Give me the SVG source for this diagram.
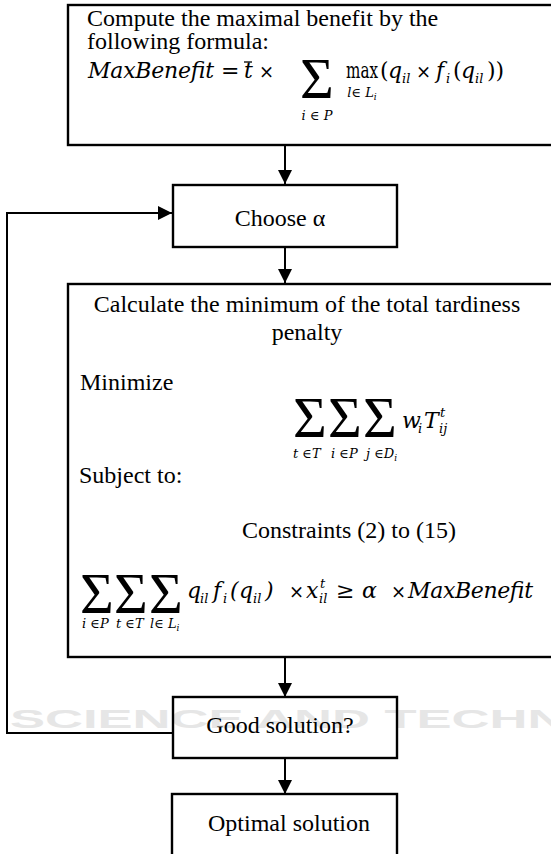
<svg xmlns="http://www.w3.org/2000/svg" width="551" height="854" viewBox="0 0 551 854">
<defs>
<style>
.box{fill:none;stroke:#000;stroke-width:2.4}
.ln{fill:none;stroke:#000;stroke-width:2}
.t{font-family:"Liberation Serif","Times New Roman",serif;font-size:24px;fill:#000}
.m{font-family:"DejaVu Serif",serif;font-style:italic;font-size:22px;fill:#000}
.u{font-family:"DejaVu Serif",serif;font-size:22px;fill:#000}
.x{font-family:"DejaVu Serif",serif;font-style:normal;font-size:18px}
.s{font-family:"DejaVu Serif",serif;font-style:italic;font-size:13px;fill:#000}
.ss{font-size:9px}
.sg{font-family:"Liberation Serif",serif;font-size:58px;fill:#000}
.wm{font-family:"Liberation Sans",sans-serif;font-weight:bold;font-size:25px;fill:#e6e6e6}
</style>
<marker id="ah" markerWidth="14" markerHeight="14" refX="14" refY="7" orient="auto" markerUnits="userSpaceOnUse">
<path d="M0,0 L14,7 L0,14 Z" fill="#000"/>
</marker>
</defs>
<rect x="0" y="0" width="551" height="854" fill="#fff"/>
<g id="watermark">
<text class="wm" x="10" y="728" textLength="745" lengthAdjust="spacingAndGlyphs">SCIENCE AND TECHNOLOGY</text>
</g>
<g id="connectors">
<line class="ln" x1="285" y1="146" x2="285" y2="184" marker-end="url(#ah)"/>
<line class="ln" x1="285" y1="248" x2="285" y2="283" marker-end="url(#ah)"/>
<line class="ln" x1="285" y1="658" x2="285" y2="697" marker-end="url(#ah)"/>
<line class="ln" x1="285" y1="759" x2="285" y2="794" marker-end="url(#ah)"/>
<polyline class="ln" points="172,733 7,733 7,213 172,213" marker-end="url(#ah)"/>
</g>
<g id="node-maxbenefit">
<rect class="box" x="68" y="5" width="500" height="140"/>
<text class="t" x="87" y="26">Compute the maximal benefit by the</text>
<text class="t" x="87" y="49">following formula:</text>
<text class="m" x="88" y="78"><tspan textLength="126" lengthAdjust="spacing">MaxBenefit</tspan><tspan class="u" x="221">=</tspan><tspan x="244">t</tspan><tspan class="x" x="259">×</tspan></text>
<line x1="244" y1="62" x2="252" y2="62" stroke="#000" stroke-width="1.3"/>
<text class="sg" x="300" y="98">Σ</text>
<text class="s" x="317" y="120" text-anchor="middle">i ∈ P</text>
<text class="u" x="346" y="78"><tspan textLength="32" lengthAdjust="spacingAndGlyphs">max</tspan><tspan x="380">(</tspan><tspan class="m" x="388">q</tspan><tspan class="s" x="402" dy="5">il</tspan><tspan class="x" x="416" dy="-5">×</tspan><tspan class="m" x="436">f</tspan><tspan class="s" x="446" dy="5">i</tspan><tspan x="453" dy="-5">(</tspan><tspan class="m" x="461">q</tspan><tspan class="s" x="475" dy="5">il</tspan><tspan x="487" dy="-5">))</tspan></text>
<text class="s" x="362" y="97" text-anchor="middle">l∈ L<tspan class="ss" dy="3">i</tspan></text>
</g>
<g id="node-choose">
<rect class="box" x="173" y="185" width="224" height="62"/>
<text class="t" x="280" y="226" text-anchor="middle">Choose α</text>
</g>
<g id="node-calculate">
<rect class="box" x="68" y="284" width="500" height="373"/>
<text class="t" x="307" y="312" text-anchor="middle">Calculate the minimum of the total tardiness</text>
<text class="t" x="307" y="340" text-anchor="middle">penalty</text>
<text class="t" x="80" y="390">Minimize</text>
<text class="sg" x="293" y="437">Σ<tspan x="328">Σ</tspan><tspan x="363">Σ</tspan></text>
<text class="s" x="293" y="458">t ∈T<tspan x="331">i ∈P</tspan><tspan x="366">j ∈D</tspan><tspan class="ss" dy="3">i</tspan></text>
<text class="m" x="402" y="428">w<tspan class="s" x="418" dy="5">i</tspan><tspan x="424" dy="-5">T</tspan><tspan class="s" x="439" dy="5">ij</tspan><tspan class="s" x="440" dy="-16">t</tspan></text>
<text class="t" x="79" y="483">Subject to:</text>
<text class="t" x="242" y="538">Constraints (2) to (15)</text>
<text class="sg" x="80" y="613">Σ<tspan x="114">Σ</tspan><tspan x="149">Σ</tspan></text>
<text class="s" x="82" y="628">i ∈P<tspan x="116">t ∈T</tspan><tspan x="150">l∈ L</tspan><tspan class="ss" dy="3">i</tspan></text>
<text class="m" x="187" y="598">q<tspan class="s" x="200" dy="5">il</tspan><tspan x="213" dy="-5">f</tspan><tspan class="s" x="223" dy="5">i</tspan><tspan class="u" x="230" dy="-5">(</tspan><tspan x="239">q</tspan><tspan class="s" x="253" dy="5">il</tspan><tspan class="u" x="265" dy="-5">)</tspan><tspan class="x" x="289">×</tspan><tspan x="306">x</tspan><tspan class="s" x="319" dy="5">il</tspan><tspan class="s" x="320" dy="-15">t</tspan><tspan class="u" x="336" dy="10">≥</tspan><tspan x="362">α</tspan><tspan class="x" x="391">×</tspan><tspan x="408" textLength="125" lengthAdjust="spacing">MaxBenefit</tspan></text>
</g>
<g id="node-good">
<rect class="box" x="173" y="697" width="224" height="61"/>
<text class="t" x="280" y="733" text-anchor="middle">Good solution?</text>
</g>
<g id="node-optimal">
<rect class="box" x="172" y="794" width="225" height="80"/>
<text class="t" x="289" y="831" text-anchor="middle">Optimal solution</text>
</g>
</svg>
